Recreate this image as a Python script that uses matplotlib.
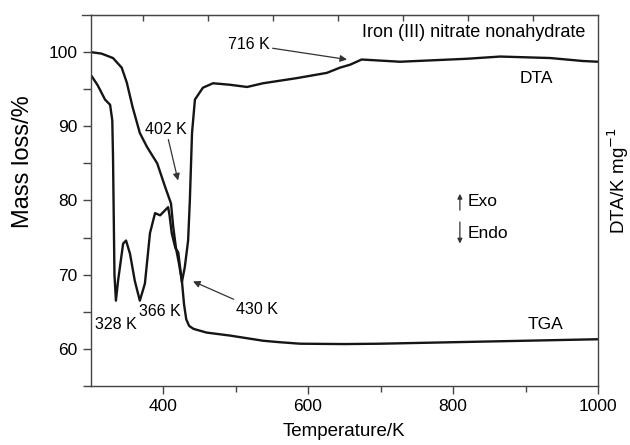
import matplotlib
matplotlib.use('Agg')
import matplotlib.pyplot as plt
from matplotlib.ticker import FixedLocator
from matplotlib.lines import Line2D

plt.rcParams['font.family'] = ['Liberation Sans', 'DejaVu Sans']

# TGA curve (mass loss, %)
tga_temp = [300, 315, 331, 343, 350, 358, 368, 378, 392, 403, 411, 414, 418, 422, 426,
            429, 432, 436, 442, 460, 492, 538, 561, 589, 650, 700, 750, 800, 850, 900, 950, 1000]
tga_mass = [100.0, 99.8, 99.2, 97.9, 95.9, 92.6, 89.1, 87.2, 85.0, 81.8, 79.6, 76.5, 73.5, 71.5, 69.2,
            66.0, 64.0, 63.1, 62.7, 62.2, 61.8, 61.1, 60.9, 60.7, 60.65, 60.7, 60.8, 60.9, 61.0, 61.1, 61.2, 61.3]

# DTA curve (drawn in the same axis units, no right scale)
dta_temp = [302, 310, 320, 327, 330, 331, 332, 333, 335, 338, 345, 349, 354.5, 361, 368, 375, 382,
            389, 396, 403, 407, 409, 412, 417, 421, 426, 430, 434.6, 437, 440, 444, 455, 469, 492,
            516, 538, 585, 626, 644, 658, 674, 727, 819, 865, 934, 979, 1000]
dta_signal = [96.7, 95.5, 93.6, 92.9, 90.8, 86.0, 78.0, 70.0, 66.5, 69.2, 74.2, 74.6, 72.8, 69.2, 66.5, 68.8, 75.6,
              78.3, 78.0, 78.7, 79.1, 78.0, 75.6, 73.6, 73.0, 69.0, 71.0, 74.6, 80.0, 89.1, 93.6, 95.2, 95.8, 95.6,
              95.3, 95.8, 96.5, 97.2, 97.9, 98.3, 99.0, 98.7, 99.1, 99.4, 99.2, 98.8, 98.7]

x_major = [400, 600, 800, 1000]
x_minor = [500, 700, 900]
y_major = [60, 70, 80, 90, 100]
y_minor = [55, 65, 75, 85, 95]
top_ticks = [372, 462, 552, 641, 731, 821, 910]

fig = plt.figure(figsize=(6.3, 4.45), dpi=100)
ax = fig.add_axes([0.1437, 0.1326, 0.8055, 0.8337])

line_c = '#151515'
ax.plot(tga_temp, tga_mass, color=line_c, lw=1.7)
ax.plot(dta_temp, dta_signal, color=line_c, lw=1.7)

ax.set_xlim(300, 1000)
ax.set_ylim(55, 105)
ax.xaxis.set_major_locator(FixedLocator(x_major))
ax.xaxis.set_minor_locator(FixedLocator(x_minor))
ax.yaxis.set_major_locator(FixedLocator(y_major))
ax.yaxis.set_minor_locator(FixedLocator(y_minor))
ax.tick_params(which='major', direction='out', length=6, width=1, labelsize=12.5, color='#444')
ax.tick_params(which='minor', direction='out', length=4, width=1, color='#444')
ax.tick_params(axis='y', which='minor', length=6)
for s in ax.spines.values():
    s.set_color('#444')
    s.set_linewidth(1)

sec = ax.secondary_xaxis('top')
sec.set_xticks(top_ticks)
sec.tick_params(direction='in', length=4, width=1, labeltop=False, color='#444')
sec.spines['top'].set_color('#444')

# top frame line sticks out a little past the left spine
fig.add_artist(Line2D([82 / 630, 91 / 630], [1 - 15 / 445, 1 - 15 / 445], color='#444', lw=1))

fig.text(23 / 630, 1 - 162 / 445, 'Mass loss/%', rotation=90, ha='center', va='center', fontsize=17)
fig.text(618 / 630, 1 - 181 / 445, 'DTA/K mg$^{-1}$', rotation=90, ha='center', va='center', fontsize=13.5)
fig.text(344 / 630, 1 - 432 / 445, 'Temperature/K', ha='center', va='center', fontsize=13.5)

ax.text(983, 102.6, 'Iron (III) nitrate nonahydrate', ha='right', va='center', fontsize=13)
ax.text(915.6, 96.4, 'DTA', ha='center', va='center', fontsize=12.5)
ax.text(926.9, 63.3, 'TGA', ha='center', va='center', fontsize=12.5)
ax.text(335.2, 63.3, '328 K', ha='center', va='center', fontsize=11.5)
ax.text(395.9, 65.0, '366 K', ha='center', va='center', fontsize=11.5)

arw = dict(arrowstyle='-|>', color='#333', lw=0.9, mutation_scale=10, shrinkA=0, shrinkB=0)
ax.annotate('716 K', xy=(653.8, 99.0), xytext=(518.6, 101.0), ha='center', va='center', fontsize=11.5,
            arrowprops=arw)
ax.annotate('402 K', xy=(420.7, 82.7), xytext=(404, 89.6), ha='center', va='center', fontsize=11.5,
            arrowprops=arw)
ax.annotate('430 K', xy=(441.4, 69.1), xytext=(529.6, 65.3), ha='center', va='center', fontsize=11.5,
            arrowprops=arw)

small = dict(arrowstyle='-|>', color='#333', lw=0.9, mutation_scale=7, shrinkA=0, shrinkB=0)
ax.annotate('', xy=(809.5, 80.9), xytext=(809.5, 78.7), arrowprops=small)
ax.annotate('', xy=(809.5, 74.2), xytext=(809.5, 77.1), arrowprops=small)
ax.text(820.6, 79.8, 'Exo', ha='left', va='center', fontsize=12.5)
ax.text(820.6, 75.6, 'Endo', ha='left', va='center', fontsize=12.5)

fig.savefig('out.png', dpi=100)
